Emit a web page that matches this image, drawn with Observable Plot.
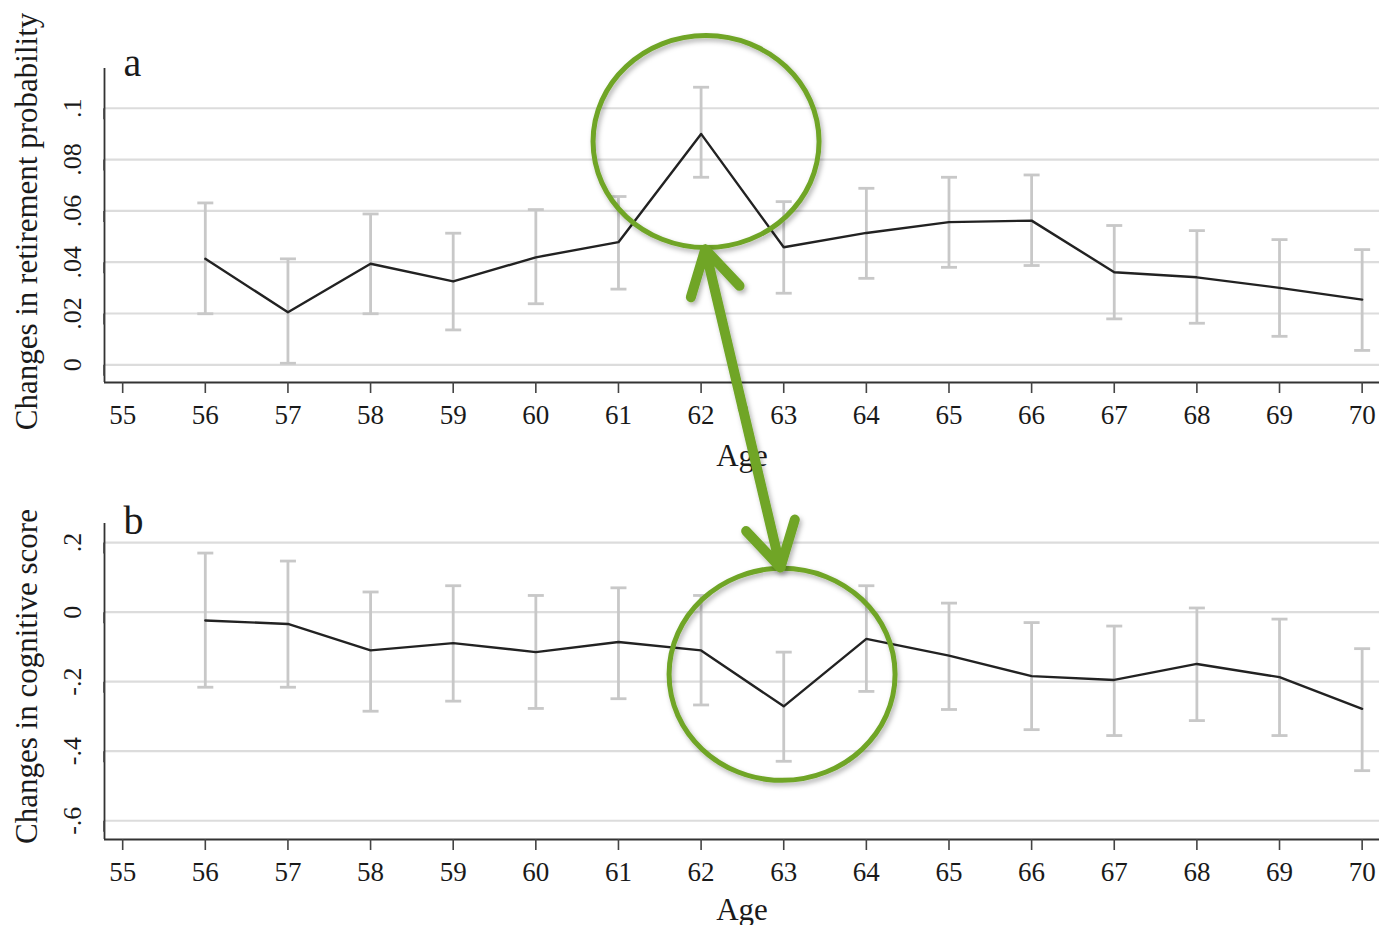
<!DOCTYPE html>
<html><head><meta charset="utf-8">
<script src="https://cdn.jsdelivr.net/npm/d3@7"></script>
<script src="https://cdn.jsdelivr.net/npm/@observablehq/plot@0.6"></script>
<style>
html,body{margin:0;padding:0;background:#fff;}
#chart{position:relative;width:1379px;height:925px;overflow:hidden;}
#chart svg{display:block;}
</style>
</head><body><div id="chart"></div>
<script>
// ---- data ----
const ages = [56,57,58,59,60,61,62,63,64,65,66,67,68,69,70];
const retireCoef = [0.0413,0.0205,0.0394,0.0325,0.0419,0.0478,0.0900,0.0458,0.0514,0.0556,0.0562,0.0361,0.0341,0.0300,0.0254];
const retireLo   = [0.0199,0.0006,0.0199,0.0136,0.0238,0.0295,0.0731,0.0279,0.0337,0.0380,0.0387,0.0179,0.0162,0.0111,0.0056];
const retireHi   = [0.0631,0.0413,0.0588,0.0513,0.0605,0.0656,0.1082,0.0636,0.0688,0.0731,0.0740,0.0543,0.0523,0.0488,0.0449];
const cogCoef = [-0.024,-0.034,-0.110,-0.089,-0.115,-0.086,-0.110,-0.271,-0.077,-0.125,-0.184,-0.195,-0.149,-0.187,-0.278];
const cogLo   = [-0.216,-0.216,-0.285,-0.256,-0.277,-0.249,-0.267,-0.429,-0.228,-0.280,-0.338,-0.355,-0.312,-0.355,-0.456];
const cogHi   = [0.170,0.147,0.058,0.076,0.048,0.070,0.048,-0.115,0.076,0.026,-0.030,-0.040,0.012,-0.020,-0.105];

const xTicks = [55,56,57,58,59,60,61,62,63,64,65,66,67,68,69,70];
const xTickLabels = ["55","56","57","58","59","60","61","62","63","64","65","66","67","68","69","70"];
const retireTicks = [0,0.02,0.04,0.06,0.08,0.1];
const retireTickLabels = ["0",".02",".04",".06",".08",".1"];
const cogTicks = [0.2,0,-0.2,-0.4,-0.6];
const cogTickLabels = [".2","0","-.2","-.4","-.6"];
const panelLetters = ["a","b"];
const yTitles = ["Changes in retirement probability","Changes in cognitive score"];
const xTitle = "Age";

// annotations (data units)
const circleAges = [62.06, 62.98];
const circleValues = [0.087, -0.179];       // centre of circle in panel a / panel b units
const arrowTipAges = [62.05, 62.96];
const arrowTipValues = [0.045, -0.079];     // expressed in panel a units

// ---- helpers ----
const green = "#6fa528";
const ink = "#1a1a1a";
const serif = "'Liberation Serif','Times New Roman',serif";
function ellipseSymbol(rx, ry) {
  const k = 0.5522847498;
  return {draw(ctx) {
    ctx.moveTo(rx, 0);
    ctx.bezierCurveTo(rx, ry*k, rx*k, ry, 0, ry);
    ctx.bezierCurveTo(-rx*k, ry, -rx, ry*k, -rx, 0);
    ctx.bezierCurveTo(-rx, -ry*k, -rx*k, -ry, 0, -ry);
    ctx.bezierCurveTo(rx*k, -ry, rx, -ry*k, rx, 0);
    ctx.closePath();
  }};
}
const capSymbol = {draw(ctx, size) { const r = Math.sqrt(size / Math.PI); ctx.moveTo(-r, 0); ctx.lineTo(r, 0); }};
const xDomain = [54.78, 70.21];

function panel({coef, lo, hi, ticks, tickLabels, yDomain, height, marginTop, marginBottom, letter, title, letterDy, titleDy, ageDy, circleIndex, extra, zIndex}) {
  const rows = ages.map((a, i) => ({age: a, v: coef[i], lo: lo[i], hi: hi[i]}));
  return Plot.plot({
    width: 1379, height, marginLeft: 104, marginRight: 0, marginTop, marginBottom,
    style: `overflow:visible;position:relative;z-index:${zIndex};font-family:${serif};background:transparent;color:${ink};`,
    x: {domain: xDomain, axis: null},
    y: {domain: yDomain, axis: null},
    marks: [
      Plot.gridY(ticks, {stroke: "#dcdcdc", strokeOpacity: 1, strokeWidth: 2.2}),
      Plot.ruleX(rows, {x: "age", y1: "lo", y2: "hi", stroke: "#c8c8c8", strokeWidth: 2.8}),
      Plot.dot(rows, {x: "age", y: "lo", symbol: capSymbol, r: 8, fill: "none", stroke: "#c8c8c8", strokeWidth: 2.8}),
      Plot.dot(rows, {x: "age", y: "hi", symbol: capSymbol, r: 8, fill: "none", stroke: "#c8c8c8", strokeWidth: 2.8}),
      Plot.line(rows, {x: "age", y: "v", stroke: "#222", strokeWidth: 2.4}),
      Plot.ruleX([xDomain[0]], {stroke: "#333", strokeWidth: 1.8}),
      Plot.ruleY([yDomain[0]], {stroke: "#333", strokeWidth: 1.8}),
      Plot.axisX({ticks: xTicks, tickFormat: d => xTickLabels[xTicks.indexOf(d)], tickSize: 11, tickPadding: 11,
                  fontSize: 27, fill: ink, stroke: "#444", strokeWidth: 1.6, label: null}),
      Plot.axisY({ticks, tickFormat: d => tickLabels[ticks.indexOf(d)], tickSize: 11, tickPadding: 13,
                  rotate: -90, textAnchor: "middle", lineAnchor: "bottom",
                  fontSize: 26, fill: ink, stroke: "#444", strokeWidth: 1.6, label: null}),
      Plot.text([title], {frameAnchor: "left", rotate: -90, dx: -77, dy: titleDy, fontSize: 31, textAnchor: "middle", lineAnchor: "middle", fill: ink}),
      Plot.text([letter], {frameAnchor: "top-left", dx: 19, dy: letterDy, fontSize: 40, textAnchor: "start", lineAnchor: "bottom", fill: ink}),
      Plot.text([xTitle], {frameAnchor: "bottom", dy: ageDy, fontSize: 31, textAnchor: "middle", lineAnchor: "bottom", fill: ink}),
      Plot.dot([circleIndex], {x: i => circleAges[i], y: i => circleValues[i], symbol: ellipseSymbol(113, 106), r: 5,
                               fill: "none", stroke: green, strokeWidth: 5}),
      ...(extra || [])
    ]
  });
}

const midAge = d3.mean(arrowTipAges), midVal = d3.mean(arrowTipValues);
const arrowRows = arrowTipAges.map((a, i) => ({a, v: arrowTipValues[i]}));
const arrowMarks = [
  Plot.arrow(arrowRows, {x1: () => midAge, y1: () => midVal, x2: "a", y2: "v", stroke: green, strokeWidth: 10,
                         headLength: 7.5, headAngle: 60, strokeLinecap: "round", strokeLinejoin: "round"})
];

const panelA = panel({coef: retireCoef, lo: retireLo, hi: retireHi, ticks: retireTicks, tickLabels: retireTickLabels,
  yDomain: [-0.0069, 0.1155], height: 470, marginTop: 68, marginBottom: 88, letter: panelLetters[0], title: yTitles[0],
  letterDy: 7, titleDy: -4, ageDy: 83, circleIndex: 0, extra: arrowMarks, zIndex: 2});
const panelB = panel({coef: cogCoef, lo: cogLo, hi: cogHi, ticks: cogTicks, tickLabels: cogTickLabels,
  yDomain: [-0.654, 0.255], height: 455, marginTop: 53, marginBottom: 86, letter: panelLetters[1], title: yTitles[1],
  letterDy: 10, titleDy: -5, ageDy: 80, circleIndex: 1, extra: [], zIndex: 1});

// soft drop shadow on the green annotations
[panelA, panelB].forEach((svg, k) => {
  const ns = "http://www.w3.org/2000/svg";
  const defs = document.createElementNS(ns, "defs");
  defs.innerHTML = `<filter id="sh${k}" x="-20%" y="-20%" width="140%" height="140%"><feDropShadow dx="2" dy="3" stdDeviation="2.5" flood-color="#000" flood-opacity="0.3"/></filter>`;
  svg.insertBefore(defs, svg.firstChild);
  svg.querySelectorAll(`[stroke="${green}"]`).forEach(el => el.setAttribute("filter", `url(#sh${k})`));
});

const chart = document.getElementById("chart");
chart.appendChild(panelA);
chart.appendChild(panelB);
</script>
</body></html>
